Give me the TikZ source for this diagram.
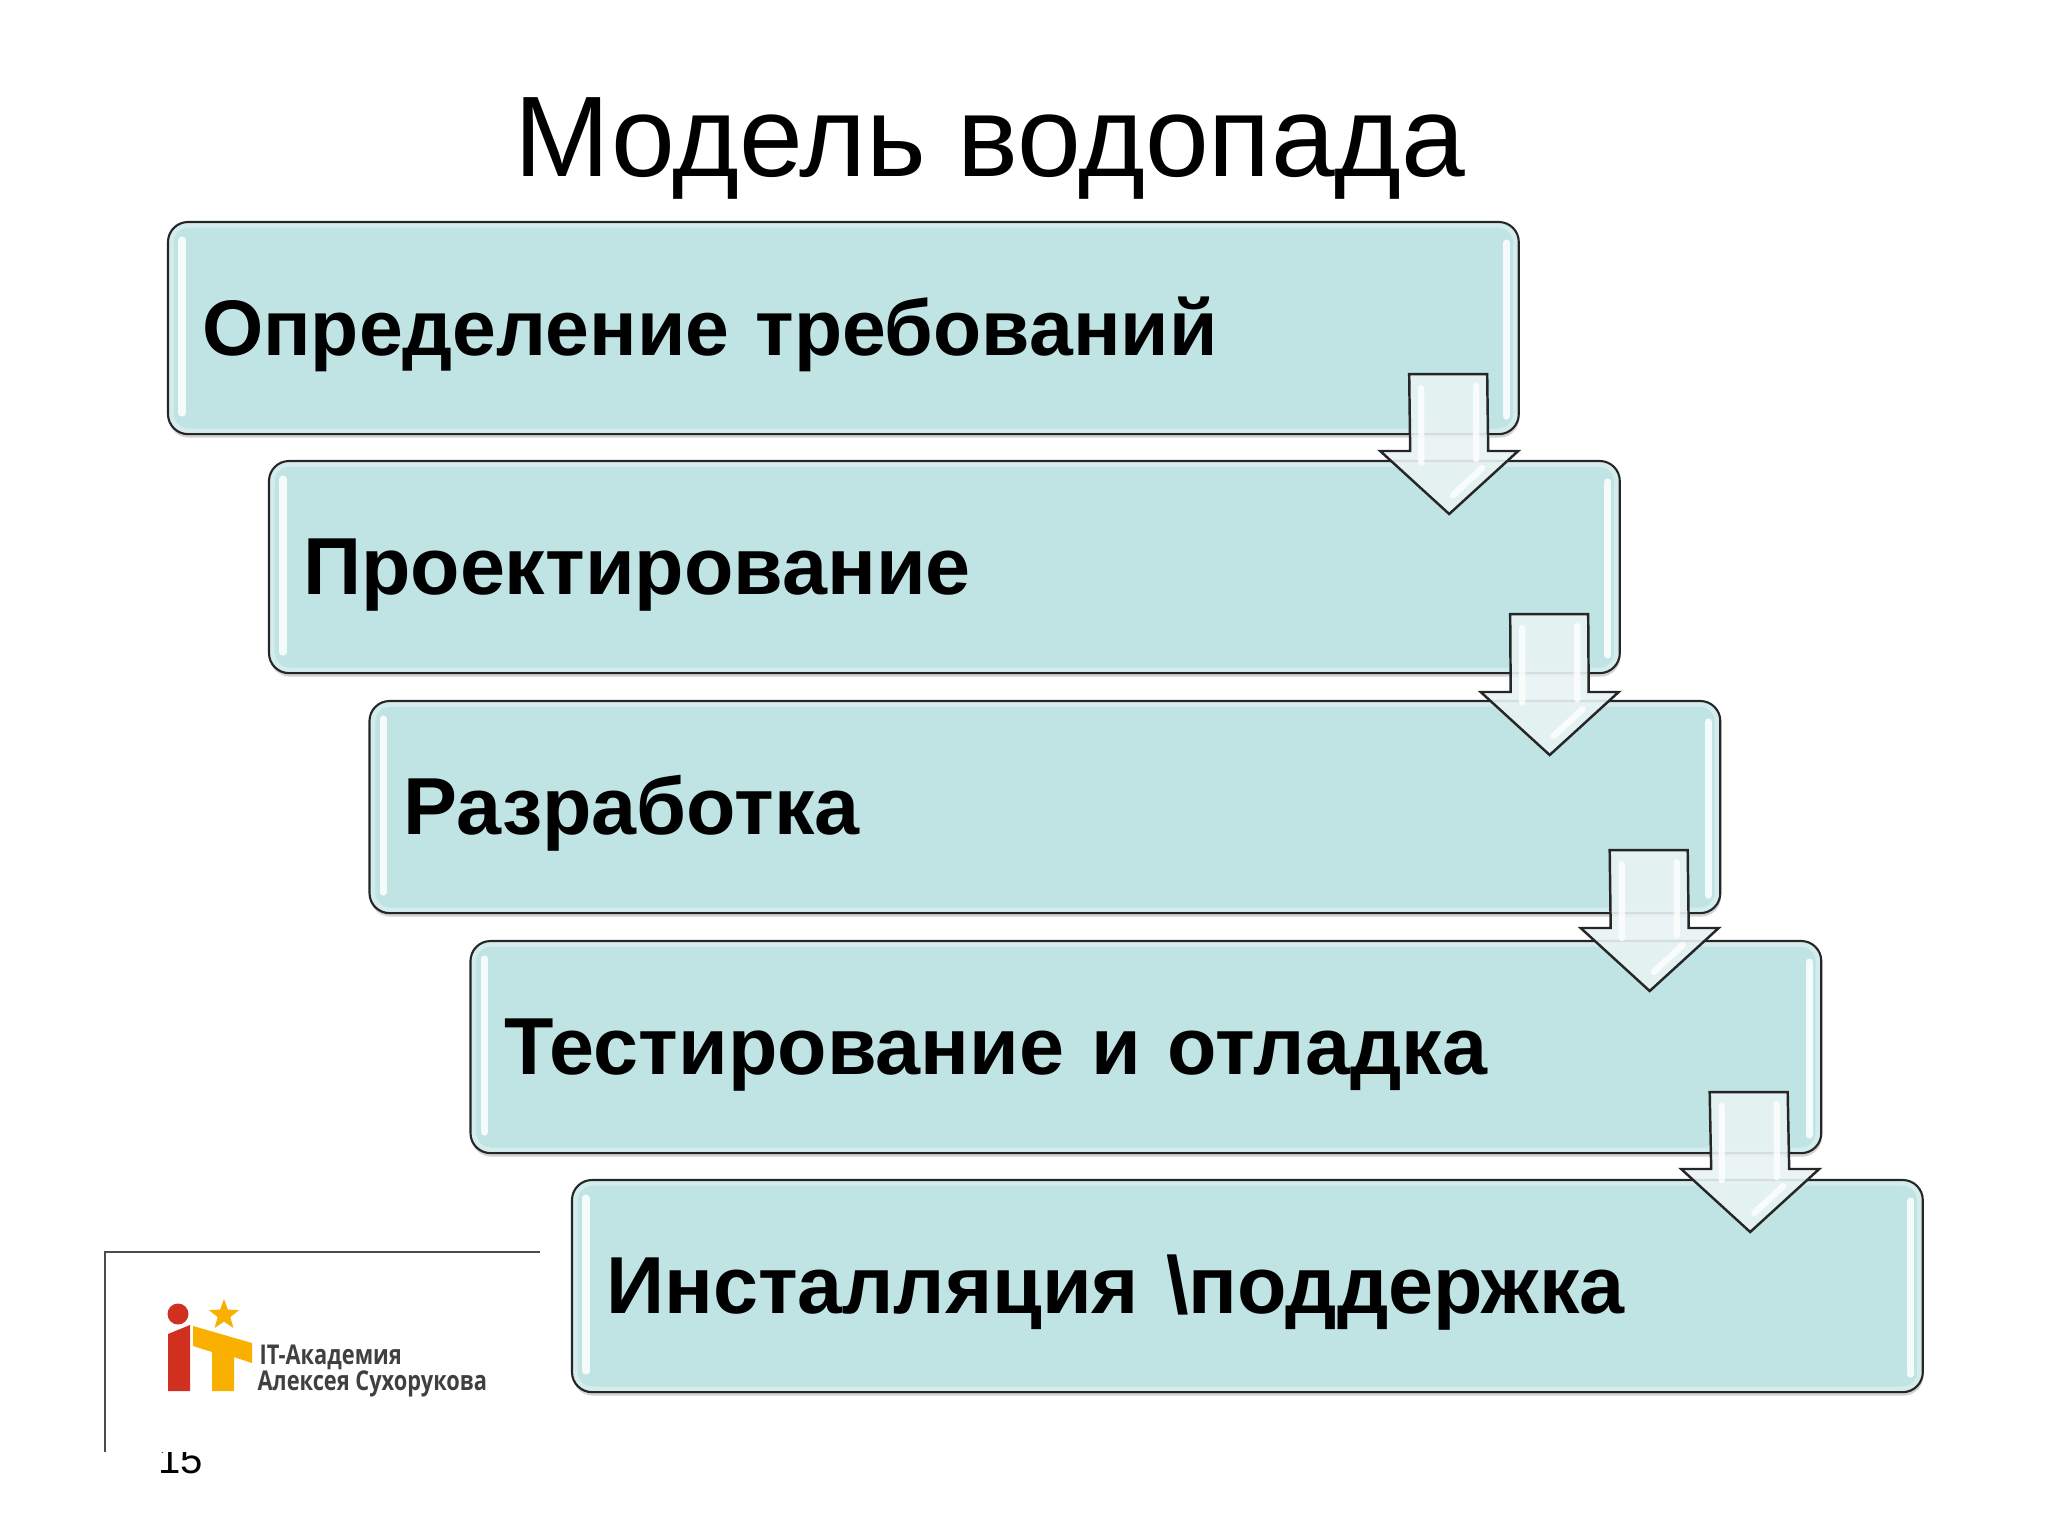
\documentclass[tikz,border=0pt]{standalone}
\usepackage{fontspec}
\setmainfont{Liberation Sans}
\newfontfamily\logofont[FakeStretch=0.8]{Open Sans}
\usepackage{xcolor}
\usetikzlibrary{calc, shadows, shapes.geometric}
\definecolor{boxteal}{HTML}{C0E3E4}
\definecolor{dropfill}{HTML}{E8F3F3}
\definecolor{logored}{HTML}{CF3020}
\definecolor{logoyellow}{HTML}{F9B000}
\tikzset{
stepbox/.style={%
    rectangle,
    anchor=north west,
    outer sep=0pt,
    minimum height=2.12cm,
    text width=12.82cm,
    inner xsep=.34cm,
    text height=.62cm,
    text depth=.08cm,
	rounded corners=.2cm,
    fill=boxteal,
    draw=black!85,
    line width=.6pt,
    drop shadow={shadow xshift=.2pt,shadow yshift=-1pt,opacity=.35},
    % Font
    font=\fontsize{23}{28}\selectfont\bfseries
},
rim/.style={rounded corners=.17cm,draw=white,line width=1.2pt,opacity=.35},
glint/.style={draw=white,line width=2pt,line cap=round,opacity=.85},
drop/.style={%
    fill=dropfill,fill opacity=.9,draw=black!85,line width=.7pt,line join=miter,
    to path={($(\tikztostart)+(-39,0)$) -- ($(\tikztostart)+(39,0)$)
    -- ($(\tikztotarget)+(39,-63)$) -- ($(\tikztotarget)+(69,-63)$)
    -- (\tikztotarget) -- ($(\tikztotarget)+(-69,-63)$)
    -- ($(\tikztotarget)+(-39,-63)$) -- cycle}
},
dropglint/.style={%
    draw=white,line width=1.8pt,line cap=round,opacity=.8,
    to path={($(\tikztostart)+(-27,14)$) -- ($(\tikztostart)+(-27,88)$)
    ($(\tikztostart)+(28,12)$) -- ($(\tikztostart)+(28,85)$)
    ($(\tikztotarget)+(33,-46)$) -- ($(\tikztotarget)+(4,-19)$)}
},
logotext/.style={anchor=base west,inner sep=0pt,text=black!75,font=\logofont\fontsize{7.75}{9}\selectfont\bfseries},
}

\begin{document}
\begin{tikzpicture}[x=.01cm,y=-.01cm]
	\useasboundingbox (0,0) rectangle (2048,1536);

	\node[inner sep=0pt,font=\fontsize{32.6}{36}\selectfont] (title) at (990,148) {Модель водопада};

	\node[stepbox,font=\fontsize{22.4}{28}\selectfont\bfseries] at (168,222) (req) {Определение требований};
	\node[stepbox] at (269,461) (des) {Проектирование};
	\node[stepbox] at (369.5,701) (dev) {Разработка};
	\node[stepbox] at (470.5,941) (tst) {Тестирование и отладка};
	\node[stepbox] at (572,1180) (ins) {Инсталляция \textbackslash поддержка};

	\foreach \b in {req,des,dev,tst,ins} {
		\draw[rim] ($(\b.north west)+(3.5,3.5)$) rectangle ($(\b.south east)+(-3.5,-3.5)$);
		\draw[glint] ($(\b.north west)+(14,18)$) -- ($(\b.south west)+(14,-21)$);
		\draw[glint] ($(\b.north east)+(-12,21)$) -- ($(\b.south east)+(-12,-18)$);
	}

	\foreach \a/\b/\r/\s in {req/des/0/0,des/dev/0/1,dev/tst/-1/-3,tst/ins/-2/-1} {
		\draw[drop] ($(\a.south east)+(-70.6+\r,-60+\s)$) to ($(\b.north east)+(-170.6+\r,53+\s)$);
		\draw[dropglint] ($(\a.south east)+(-70.6+\r,-60+\s)$) to ($(\b.north east)+(-170.6+\r,53+\s)$);
	}

	% footer frame and page number
	\draw[black!70,line width=.5pt] (105,1452) -- (105,1252) -- (540,1252);
	\begin{scope}
		\clip (120,1452) rectangle (260,1500);
		\node[anchor=base west,inner sep=0pt,font=\fontsize{11.4}{13}\selectfont] (page) at (158,1473) {15};
	\end{scope}

	% logo
	\fill[logored] (178,1314) circle (10.5);
	\fill[logored] (168,1334) -- (190,1325) -- (190,1391) -- (168,1391) -- cycle;
	\fill[logoyellow] (193,1326) -- (252,1343) -- (252,1363) -- (234,1357) -- (234,1391)
		-- (212,1391) -- (212,1352) -- (193,1346) -- cycle;
	\node[star,star points=5,star point ratio=2.4,fill=logoyellow,inner sep=0pt,minimum size=.32cm] (logostar) at (224,1315) {};
	\node[logotext] (logoa) at (259,1364) {IT-Академия};
	\node[logotext] (logob) at (257,1390) {Алексея Сухорукова};
\end{tikzpicture}
\end{document}
